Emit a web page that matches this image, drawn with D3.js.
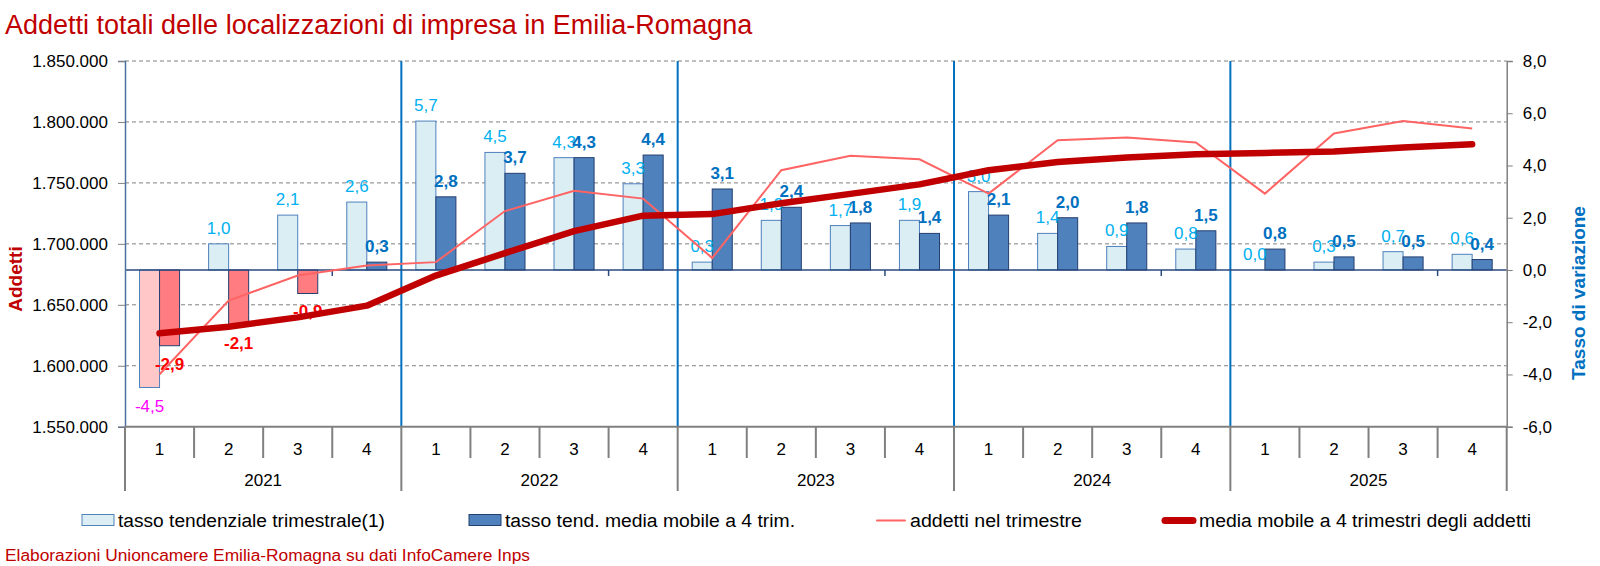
<!DOCTYPE html>
<html>
<head>
<meta charset="utf-8">
<script src="https://cdn.jsdelivr.net/npm/d3@7"></script>
<style>
  body { margin: 0; background: #fff; }
  svg { display: block; font-family: "Liberation Sans", Arial, sans-serif; }
</style>
</head>
<body>
<div id="chart"></div>
<script>
// chart data
const years = ["2021", "2022", "2023", "2024", "2025"];
const quarters = ["1", "2", "3", "4"];
const categories = years.flatMap(y => quarters.map(q => y + "-" + q));

// tasso tendenziale trimestrale(1)
const tassoTrim = [-4.5, 1.0, 2.1, 2.6, 5.7, 4.5, 4.3, 3.3, 0.3, 1.9, 1.7, 1.9, 3.0, 1.4, 0.9, 0.8, 0.0, 0.3, 0.7, 0.6];
// tasso tend. media mobile a 4 trim.
const tassoMedia = [-2.9, -2.1, -0.9, 0.3, 2.8, 3.7, 4.3, 4.4, 3.1, 2.4, 1.8, 1.4, 2.1, 2.0, 1.8, 1.5, 0.8, 0.5, 0.5, 0.4];
// addetti nel trimestre
const addetti = [1593000, 1653500, 1674000, 1682200, 1685000, 1726900, 1743500, 1737100, 1688400, 1760400,
                 1772300, 1769400, 1741200, 1785000, 1787200, 1783100, 1741200, 1790500, 1800700, 1794600];
// media mobile a 4 trimestri degli addetti
const mediaAddetti = [1626600, 1632000, 1639700, 1649300, 1674000, 1692400, 1710500, 1723100, 1724400, 1733300,
                      1741000, 1748800, 1760400, 1767200, 1770800, 1773500, 1774600, 1775700, 1779000, 1781700];

const leftTicks = [1550000, 1600000, 1650000, 1700000, 1750000, 1800000, 1850000];
const rightTicks = [-6, -4, -2, 0, 2, 4, 6, 8];

const width = 1600, height = 566;
const plotLeft = 125, plotRight = 1506.7, plotTop = 61, plotBottom = 426.7;
const font = "'Liberation Sans', Arial, sans-serif";

const it = d3.formatLocale({ decimal: ",", thousands: ".", grouping: [3], currency: ["€", ""], minus: "-" });
const fmtInt = it.format(",d");
const fmt1 = it.format(".1f");

const svg = d3.select("#chart").append("svg")
  .attr("width", width)
  .attr("height", height);

// scales
const x = d3.scaleBand().domain(categories).range([plotLeft, plotRight]).paddingInner(0.42).paddingOuter(0.21);
const xSub = d3.scaleBand().domain(["trim", "media"]).range([0, x.bandwidth()]);
const y1 = d3.scaleLinear().domain([1550000, 1850000]).range([plotBottom, plotTop]);
const y2 = d3.scaleLinear().domain([-6, 8]).range([plotBottom, plotTop]);
const boundary = i => plotLeft + i * x.step();
const cx = i => x(categories[i]) + x.bandwidth() / 2;

// gridlines
svg.append("g").selectAll("line")
  .data(leftTicks.slice(1))
  .enter().append("line")
    .attr("x1", plotLeft).attr("x2", plotRight)
    .attr("y1", d => y1(d)).attr("y2", d => y1(d))
    .attr("stroke", "#808080")
    .attr("stroke-width", 1)
    .attr("stroke-dasharray", "4,3");

// year separators inside the plot
svg.append("g").selectAll("line")
  .data([4, 8, 12, 16])
  .enter().append("line")
    .attr("x1", d => boundary(d)).attr("x2", d => boundary(d))
    .attr("y1", plotTop).attr("y2", plotBottom)
    .attr("stroke", "#0070c0")
    .attr("stroke-width", 2);

// bars
const bars = svg.append("g");
bars.selectAll("rect.trim")
  .data(tassoTrim)
  .enter().append("rect")
    .attr("class", "trim")
    .attr("x", (d, i) => x(categories[i]) + xSub("trim"))
    .attr("y", d => y2(Math.max(0, d)))
    .attr("width", xSub.bandwidth())
    .attr("height", d => Math.abs(y2(d) - y2(0)))
    .attr("fill", d => d < 0 ? "#ffc7c7" : "#daeef3")
    .attr("stroke", "#4f81bd")
    .attr("stroke-width", 1);

bars.selectAll("rect.media")
  .data(tassoMedia)
  .enter().append("rect")
    .attr("class", "media")
    .attr("x", (d, i) => x(categories[i]) + xSub("media"))
    .attr("y", d => y2(Math.max(0, d)))
    .attr("width", xSub.bandwidth())
    .attr("height", d => Math.abs(y2(d) - y2(0)))
    .attr("fill", d => d < 0 ? "#ff7c80" : "#4f81bd")
    .attr("stroke", "#243f70")
    .attr("stroke-width", 1);

// zero line of the rate axis
svg.append("line")
  .attr("x1", plotLeft).attr("x2", plotRight)
  .attr("y1", y2(0)).attr("y2", y2(0))
  .attr("stroke", "#2a4a7f")
  .attr("stroke-width", 1.5);
svg.append("g").selectAll("line")
  .data([3, 7, 11, 15, 19])
  .enter().append("line")
    .attr("x1", d => boundary(d)).attr("x2", d => boundary(d))
    .attr("y1", y2(0)).attr("y2", y2(0) + 6)
    .attr("stroke", "#2a4a7f")
    .attr("stroke-width", 1.5);

// bar labels
const labels = svg.append("g").attr("font-family", font).attr("font-size", 17).attr("text-anchor", "middle");
labels.selectAll("text.trim")
  .data(tassoTrim)
  .enter().append("text")
    .attr("x", (d, i) => x(categories[i]) + xSub("trim") + xSub.bandwidth() / 2)
    .attr("y", d => d < 0 ? y2(d) + 24 : y2(d) - 10)
    .attr("fill", d => d < 0 ? "#ff00ff" : "#00b0f0")
    .text(d => fmt1(d));

labels.selectAll("text.media")
  .data(tassoMedia)
  .enter().append("text")
    .attr("x", (d, i) => x(categories[i]) + xSub("media") + xSub.bandwidth() / 2)
    .attr("y", d => d < 0 ? y2(d) + 24 : y2(d) - 10)
    .attr("fill", d => d < 0 ? "#ff0000" : "#0070c0")
    .attr("font-weight", "bold")
    .text(d => fmt1(d));

// lines
const line = d3.line().x((d, i) => cx(i)).y(d => y1(d));
svg.append("path")
  .datum(addetti)
  .attr("d", line)
  .attr("fill", "none")
  .attr("stroke", "#ff6464")
  .attr("stroke-width", 2);
svg.append("path")
  .datum(mediaAddetti)
  .attr("d", line)
  .attr("fill", "none")
  .attr("stroke", "#c00000")
  .attr("stroke-width", 6.5)
  .attr("stroke-linecap", "round")
  .attr("stroke-linejoin", "round");

// left axis
const axL = svg.append("g")
  .attr("transform", "translate(" + plotLeft + ",0)")
  .call(d3.axisLeft(y1).tickValues(leftTicks).tickSize(7).tickPadding(10).tickFormat(fmtInt));
axL.select(".domain").attr("stroke", "#4f6f9f").attr("stroke-width", 1.5);
axL.selectAll(".tick line").attr("stroke", "#808080");
axL.selectAll("text").attr("font-family", font).attr("font-size", 17).attr("fill", "#000");

// right axis
const axR = svg.append("g")
  .attr("transform", "translate(" + plotRight + ",0)")
  .call(d3.axisRight(y2).tickValues(rightTicks).tickSize(6).tickPadding(10).tickFormat(fmt1));
axR.select(".domain").attr("stroke", "#808080").attr("stroke-width", 1.5);
axR.selectAll(".tick line").attr("stroke", "#808080");
axR.selectAll("text").attr("font-family", font).attr("font-size", 17).attr("fill", "#000");

// category axis
const catAxis = svg.append("g").attr("stroke", "#808080").attr("stroke-width", 2);
catAxis.append("line")
  .attr("x1", plotLeft).attr("x2", plotRight)
  .attr("y1", plotBottom).attr("y2", plotBottom);
catAxis.selectAll("line.q")
  .data(d3.range(0, 21))
  .enter().append("line")
    .attr("x1", d => boundary(d)).attr("x2", d => boundary(d))
    .attr("y1", plotBottom)
    .attr("y2", d => d % 4 === 0 ? 491 : 458);

svg.append("g").attr("font-family", font).attr("font-size", 17).attr("text-anchor", "middle")
  .selectAll("text")
  .data(categories)
  .enter().append("text")
    .attr("x", d => x(d) + x.bandwidth() / 2)
    .attr("y", 455)
    .text(d => d.split("-")[1]);

svg.append("g").attr("font-family", font).attr("font-size", 17).attr("text-anchor", "middle")
  .selectAll("text")
  .data(years)
  .enter().append("text")
    .attr("x", (d, i) => (boundary(i * 4) + boundary(i * 4 + 4)) / 2)
    .attr("y", 486)
    .text(d => d);

// axis titles
svg.append("text")
  .attr("transform", "translate(22,279) rotate(-90)")
  .attr("text-anchor", "middle")
  .attr("font-family", font).attr("font-size", 19).attr("font-weight", "bold")
  .attr("fill", "#c00000")
  .text("Addetti");
svg.append("text")
  .attr("transform", "translate(1585,293) rotate(-90)")
  .attr("text-anchor", "middle")
  .attr("font-family", font).attr("font-size", 19).attr("font-weight", "bold")
  .attr("fill", "#0070c0")
  .text("Tasso di variazione");

// title and source
svg.append("text")
  .attr("x", 5).attr("y", 34)
  .attr("font-family", font).attr("font-size", 27)
  .attr("fill", "#c00000")
  .text("Addetti totali delle localizzazioni di impresa in Emilia-Romagna");
svg.append("text")
  .attr("x", 5).attr("y", 561)
  .attr("font-family", font).attr("font-size", 16)
  .attr("fill", "#c00000")
  .attr("textLength", 525).attr("lengthAdjust", "spacingAndGlyphs")
  .text("Elaborazioni Unioncamere Emilia-Romagna su dati InfoCamere Inps");

// legend
const legendItems = [
  { label: "tasso tendenziale trimestrale(1)", kind: "rect", fill: "#daeef3", stroke: "#4f81bd", x0: 82, tx: 118, tw: 267 },
  { label: "tasso tend. media mobile a 4 trim.", kind: "rect", fill: "#4f81bd", stroke: "#243f70", x0: 469, tx: 505, tw: 290 },
  { label: "addetti nel trimestre", kind: "line", stroke: "#ff6464", sw: 2, x0: 874, tx: 910, tw: 172 },
  { label: "media mobile a 4 trimestri degli addetti", kind: "line", stroke: "#c00000", sw: 7, x0: 1162, tx: 1199, tw: 332 }
];
const legend = svg.append("g");
legendItems.forEach(function(d) {
  if (d.kind === "rect") {
    legend.append("rect")
      .attr("x", d.x0).attr("y", 514.5)
      .attr("width", 32).attr("height", 11)
      .attr("fill", d.fill).attr("stroke", d.stroke).attr("stroke-width", 1);
  } else {
    legend.append("line")
      .attr("x1", d.x0 + 3).attr("x2", d.x0 + 31)
      .attr("y1", 520.5).attr("y2", 520.5)
      .attr("stroke", d.stroke).attr("stroke-width", d.sw)
      .attr("stroke-linecap", "round");
  }
  legend.append("text")
    .attr("x", d.tx).attr("y", 527)
    .attr("font-family", font).attr("font-size", 18)
    .attr("textLength", d.tw).attr("lengthAdjust", "spacingAndGlyphs")
    .text(d.label);
});
</script>
</body>
</html>
